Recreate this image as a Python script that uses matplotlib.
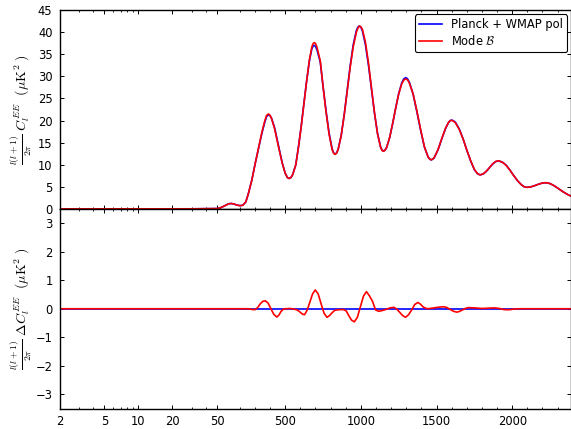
import numpy as np
import matplotlib
matplotlib.use("Agg")
import matplotlib.pyplot as plt
from matplotlib.ticker import NullFormatter

plt.rcParams['mathtext.fontset'] = 'cm'
plt.rcParams['font.family'] = ['DejaVu Sans']

# ---------------- data ----------------
ell = [2, 3, 4, 5, 6, 8, 10, 15, 20, 30, 40, 50, 70, 90, 110, 125, 141, 160, 180, 202,
       220, 240, 257, 280, 302, 325, 346, 365, 377, 389, 400, 410, 430, 456, 480, 500,
       515, 526, 538, 550,
       570, 588, 605, 621, 640, 660, 676, 684, 692, 700, 710, 732, 750, 770, 790, 810,
       820, 830, 840, 850,
       870, 890, 910, 930, 950, 970, 980, 990, 1000, 1010, 1030, 1050, 1070, 1090, 1110,
       1130, 1140, 1149, 1159, 1170, 1190, 1210, 1230, 1250, 1270, 1283, 1295, 1307,
       1320, 1345, 1370, 1395, 1420, 1445, 1455, 1464, 1474, 1485, 1510, 1535, 1560,
       1580, 1590, 1601, 1612, 1625, 1650, 1675, 1700, 1725,
       1750, 1770, 1788, 1810, 1830, 1850, 1870, 1890, 1909, 1935, 1960, 1985, 2010,
       2035, 2060, 2080, 2097, 2120, 2145, 2170, 2195, 2222, 2250, 2280, 2310, 2340,
       2365, 2390]

cl_planck = [0.03, 0.03, 0.025, 0.02, 0.015, 0.01, 0.008, 0.01, 0.02, 0.04, 0.07, 0.1,
             0.25, 0.55, 0.9, 1.15, 1.25, 1.15, 0.9, 0.75,
             0.85, 1.6, 3.5, 6.6, 10.3, 13.9, 17.1, 19.6, 20.9, 21.3, 21.1, 20.5, 18.4,
             14.3, 10.5, 8.1,
             7.1, 6.9, 7.1, 7.8,
             10.0, 14.1, 18.5, 23.1, 28.5, 33.5, 36.2, 36.8, 37.0, 36.8, 36.0, 33.2, 27.8,
             22.2, 17.2, 13.6,
             12.7, 12.4, 12.7, 13.5,
             16.6, 21.3, 26.9, 32.5, 37.2, 40.3, 41.1, 41.4, 41.1, 40.3, 37.2, 32.6, 27.1,
             21.7, 17.1,
             14.1, 13.3, 13.1, 13.3, 13.9, 16.1, 19.3, 22.8, 26.1, 28.5, 29.4, 29.7, 29.5,
             28.7, 26.0, 22.0, 17.8, 14.0, 11.7, 11.3, 11.1, 11.25, 11.6, 13.4, 15.9,
             18.25,
             19.6, 20.0, 20.1, 19.95, 19.6, 18.1, 15.9, 13.3, 10.9,
             8.9, 8.0, 7.7, 7.96, 8.56, 9.36, 10.15, 10.7, 10.9, 10.6, 9.9, 8.8, 7.55,
             6.4, 5.5, 5.0, 4.9, 4.98, 5.24, 5.56, 5.83, 5.95, 5.75, 5.2, 4.5, 3.8,
             3.3, 2.9]

cl_modeB = [0.03, 0.03, 0.025, 0.02, 0.015, 0.01, 0.008, 0.01, 0.02, 0.04, 0.07, 0.1,
            0.25, 0.55, 0.9, 1.15, 1.25, 1.15, 0.9, 0.75,
            0.85, 1.6, 3.49, 6.57, 10.27, 14.0, 17.34, 19.88, 21.15, 21.49, 21.2, 20.46,
            18.17, 14.06, 10.45, 8.1,
            7.1, 6.91, 7.11, 7.79,
            9.97, 14.03, 18.35, 22.9, 28.4, 33.69, 36.64, 37.36, 37.63, 37.46, 36.6,
            33.47, 27.76, 21.94, 16.94, 13.46,
            12.61, 12.35, 12.66, 13.46,
            16.57, 21.26, 26.77, 32.17, 36.76, 39.94, 40.88, 41.34, 41.22, 40.62, 37.76,
            33.1, 27.42, 21.76, 17.02,
            14.02, 13.24, 13.05, 13.26, 13.88, 16.13, 19.35, 22.81, 26.01, 28.29, 29.13,
            29.4, 29.25,
            28.52, 26.04, 22.2, 17.95, 14.04, 11.7, 11.31, 11.11, 11.27, 11.63, 13.45,
            15.97, 18.31,
            19.62, 19.98, 20.04, 19.86, 19.49, 18.0, 15.87, 13.33, 10.94,
            8.93, 8.02, 7.71, 7.97, 8.58, 9.38, 10.18, 10.73, 10.91, 10.58, 9.87, 8.77,
            7.54,
            6.4, 5.5, 5.0, 4.9, 4.98, 5.24, 5.56, 5.83, 5.95, 5.75, 5.2, 4.5, 3.8,
            3.3, 2.9]

ell_res = [2, 100, 200, 250, 268, 285, 302, 318, 335, 352, 368, 387, 406, 425, 445, 459,
           472, 486, 500, 533, 555, 578, 590, 603, 615, 628, 645, 663, 681, 699, 718, 737,
           757, 776, 793, 810, 826, 843, 865, 886, 904, 921, 939, 957, 977, 997, 1017,
           1037, 1057, 1077, 1097, 1118, 1143, 1168, 1193, 1218, 1237, 1256, 1276, 1295,
           1315, 1336, 1356, 1377, 1394, 1410, 1427, 1444, 1470, 1496, 1523, 1549, 1570,
           1592, 1613, 1635, 1653, 1672, 1690, 1709, 1750, 1800, 1840, 1880, 1902, 1924,
           1946, 1968, 1990, 2010, 2050, 2390]
delta_modeB = [0, 0, 0, 0.0, -0.01, -0.03, -0.03, 0.04, 0.17, 0.26, 0.28, 0.20, 0.0,
               -0.20, -0.29, -0.22, -0.10, -0.02, 0.0, 0.01, -0.01, -0.04, -0.08, -0.14,
               -0.19, -0.21, -0.05, 0.23, 0.52, 0.66, 0.52, 0.18, -0.16, -0.30, -0.24,
               -0.14, -0.06, -0.04, -0.03, -0.03, -0.08, -0.25, -0.40, -0.46, -0.30, 0.07,
               0.44, 0.60, 0.45, 0.26, -0.04, -0.09, -0.06, -0.02, 0.03, 0.05, -0.01,
               -0.12, -0.24, -0.30, -0.21, -0.04, 0.15, 0.22, 0.16, 0.07, 0.02, 0.0, 0.02,
               0.04, 0.06, 0.07, 0.04, -0.03, -0.09, -0.12, -0.09, -0.04, 0.01, 0.04, 0.03,
               0.01, 0.02, 0.03, 0.02, 0.0, -0.03, -0.035, -0.03, -0.01, 0.0, 0.0]
delta_planck = [0.0] * len(ell_res)

xticks = [2, 5, 10, 20, 50, 500, 1000, 1500, 2000]
xtick_labels = ['2', '5', '10', '20', '50', '500', '1000', '1500', '2000']
xminor = [3, 4, 6, 7, 8, 9, 30, 40] + [200, 300, 400, 600, 700, 800, 900, 1100, 1200,
                                       1300, 1400, 1600, 1700, 1800, 1900, 2100, 2200,
                                       2300]
top_yticks = [0, 5, 10, 15, 20, 25, 30, 35, 40, 45]
bot_yticks = [-3, -2, -1, 0, 1, 2, 3]

# ---------------- hybrid log/linear scale ----------------
LSPLIT = 50.0
K = 0.001343


def fwd(l):
    l = np.asarray(l, dtype=float)
    lc = np.clip(l, 1e-6, None)
    return np.where(l <= LSPLIT, np.log10(lc), np.log10(LSPLIT) + (l - LSPLIT) * K)


def inv(u):
    u = np.asarray(u, dtype=float)
    us = np.log10(LSPLIT)
    return np.where(u <= us, 10 ** np.minimum(u, us), LSPLIT + (u - us) / K)


W, H = 571, 429
fig = plt.figure(figsize=(W / 100, H / 100), dpi=100)
left = 59.5 / W
width = 511 / W
ax1 = fig.add_axes([left, (H - 209) / H, width, 199 / H])
ax2 = fig.add_axes([left, (H - 408.5) / H, width, 199.5 / H])

lw = 1.2
ax1.plot(ell, cl_planck, color='b', lw=lw, label='Planck + WMAP pol')
ax1.plot(ell, cl_modeB, color='r', lw=lw, label=r'Mode $\mathcal{B}$')
ax2.plot(ell_res, delta_planck, color='b', lw=lw)
ax2.plot(ell_res, delta_modeB, color='r', lw=lw)

for ax in (ax1, ax2):
    ax.set_xscale('function', functions=(fwd, inv))
    ax.set_xlim(2, 2385)
    ax.set_xticks(xticks)
    ax.set_xticks(xminor, minor=True)
    ax.xaxis.set_minor_formatter(NullFormatter())
    ax.tick_params(which='both', direction='in', top=True, right=True)
    ax.tick_params(which='major', length=3.0, width=0.7, labelsize=8.3, pad=4.5)
    ax.tick_params(which='minor', length=1.5, width=0.6)
    ax.tick_params(axis='y', which='major', pad=5)
    for s in ax.spines.values():
        s.set_linewidth(1.0)

ax1.set_xticklabels([])
ax2.set_xticklabels(xtick_labels)

ax1.set_ylim(0, 45)
ax1.set_yticks(top_yticks)
ax2.set_ylim(-3.5, 3.5)
ax2.set_yticks(bot_yticks)

ax1.set_ylabel(r'$\frac{l(l+1)}{2\pi}\ C_l^{EE}\ \ (\mu\mathrm{K}^2\ )$', fontsize=10)
ax2.set_ylabel(r'$\frac{l(l+1)}{2\pi}\ \Delta C_l^{EE}\ \ (\mu\mathrm{K}^2\ )$', fontsize=10)
ax1.yaxis.set_label_coords(-0.05, 0.5)
ax2.yaxis.set_label_coords(-0.05, 0.5)

leg = ax1.legend(loc='upper right', fontsize=8.3, borderaxespad=0.3,
                 bbox_to_anchor=(1.0, 0.995), handlelength=2.0, framealpha=1,
                 labelspacing=0.25, borderpad=0.35)
leg.get_frame().set_edgecolor('black')
leg.get_frame().set_linewidth(0.8)

fig.savefig('out.png', dpi=100)
